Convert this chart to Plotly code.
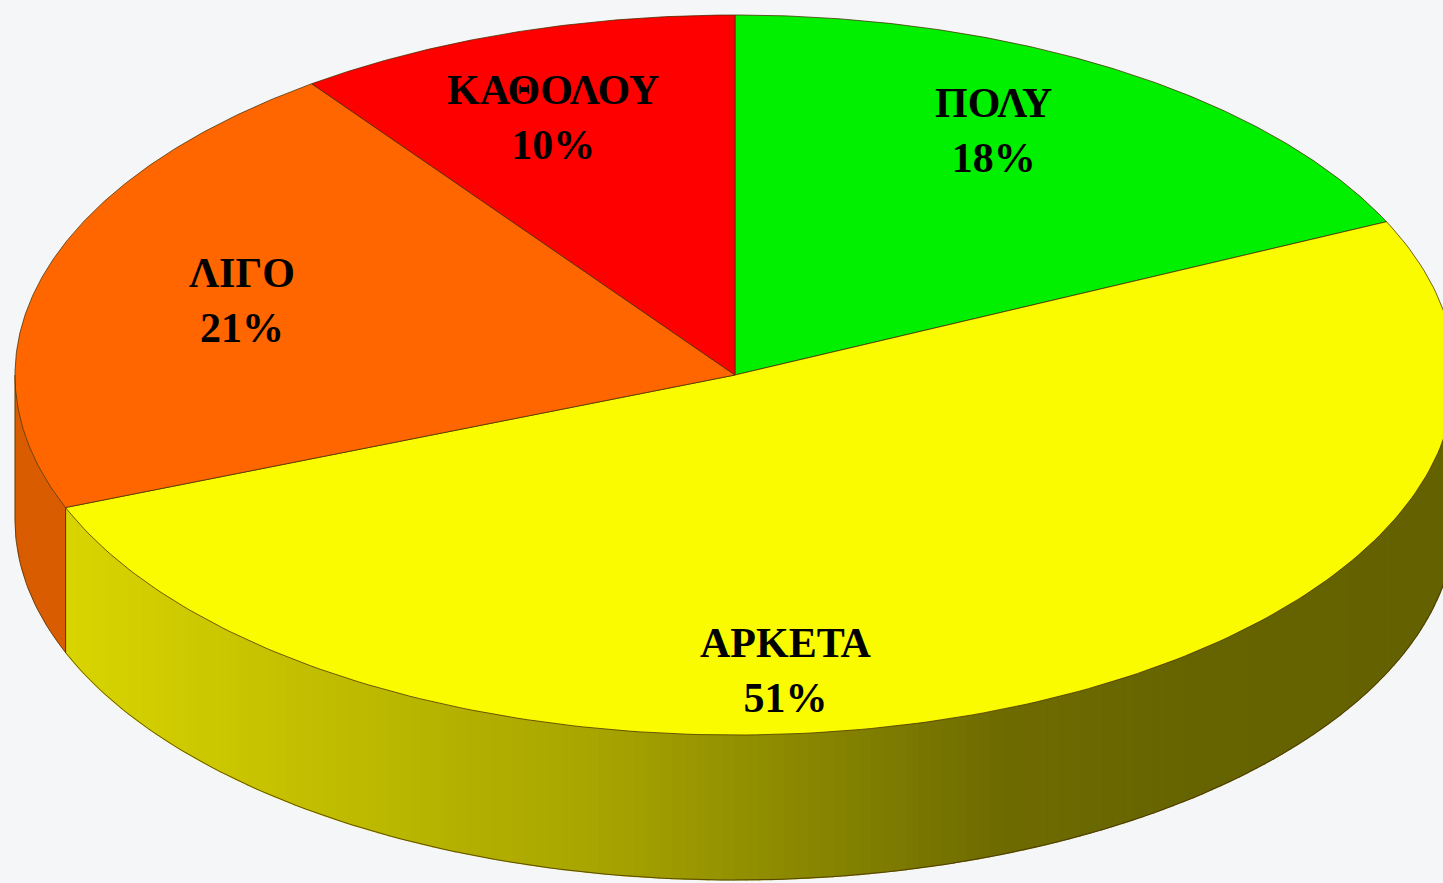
import numpy as np
import plotly.graph_objects as go

# ---- data ----
categories = ["ΠΟΛΥ", "ΑΡΚΕΤΑ", "ΛΙΓΟ", "ΚΑΘΟΛΟΥ"]
values = [18, 51, 21, 10]

# ---- styles / geometry (pixel space) ----
top_colors = ["#00f000", "#fbfb00", "#ff6600", "#ff0000"]
side_colors = ["#00b000", None, "#d95c00", "#c00000"]  # yellow side uses a gradient
W, H = 1443, 883
CX, CY = 735, 375
RX, RY = 720, 360
DEPTH = 145
START = 90.0  # degrees, clockwise direction
label_pos = [(993, 130), (786, 670), (242, 300), (553, 117)]

total = float(sum(values))
fracs = [v / total for v in values]
bounds = [START]
for f in fracs:
    bounds.append(bounds[-1] - f * 360.0)


def ell(theta_deg, dy=0.0):
    t = np.radians(theta_deg)
    return CX + RX * np.cos(t), CY - RY * np.sin(t) + dy


fig = go.Figure()


def yellow_side_color(x):
    xs = [65, 600, 1000, 1200, 1443]
    ks = [0.85, 0.655, 0.43, 0.40, 0.39]
    k = float(np.interp(x, xs, ks))
    return "rgb(%d,%d,0)" % (round(255 * k), round(250 * k))


EDGE = "rgba(70,45,0,0.75)"

# ---- side walls (only the front half, theta in [-180, 0]) ----
for i, cat in enumerate(categories):
    a0, a1 = bounds[i], bounds[i + 1]  # a0 > a1
    lo, hi = max(a1, -180.0), min(a0, 0.0)
    if lo >= hi:
        continue
    if side_colors[i] is not None:
        th = np.linspace(hi, lo, 120)
        xt, yt = ell(th)
        xb, yb = ell(th[::-1], DEPTH)
        fig.add_trace(go.Scatter(
            x=np.concatenate([xt, xb, xt[:1]]), y=np.concatenate([yt, yb, yt[:1]]),
            mode="lines", fill="toself", fillcolor=side_colors[i],
            line=dict(color=side_colors[i], width=0.5), hoverinfo="skip", showlegend=False))
    else:
        n = 160
        th = np.linspace(hi, lo, n + 1)
        for j in range(n):
            seg = np.linspace(th[j], th[j + 1], 3)
            xt, yt = ell(seg)
            xb, yb = ell(seg[::-1], DEPTH)
            c = yellow_side_color(float(np.mean(xt)))
            fig.add_trace(go.Scatter(
                x=np.concatenate([xt, xb, xt[:1]]), y=np.concatenate([yt, yb, yt[:1]]),
                mode="lines", fill="toself", fillcolor=c,
                line=dict(color=c, width=1.2), hoverinfo="skip", showlegend=False))
    for b in (a0, a1):
        if -180.0 < b < 0.0:
            x0, y0 = ell(b)
            x1, y1 = ell(b, DEPTH)
            fig.add_trace(go.Scatter(x=[x0, x1], y=[y0, y1], mode="lines",
                                     line=dict(color=EDGE, width=1),
                                     hoverinfo="skip", showlegend=False))

# outline of the side bottom and left edge
thb = np.linspace(180, 360, 200)
xb, yb = ell(thb, DEPTH)
fig.add_trace(go.Scatter(x=xb, y=yb, mode="lines", line=dict(color=EDGE, width=1),
                         hoverinfo="skip", showlegend=False))
xl0, yl0 = ell(180)
xl1, yl1 = ell(180, DEPTH)
fig.add_trace(go.Scatter(x=[xl0, xl1], y=[yl0, yl1], mode="lines",
                         line=dict(color=EDGE, width=1), hoverinfo="skip", showlegend=False))

# ---- top face slices ----
for i, cat in enumerate(categories):
    th = np.linspace(bounds[i], bounds[i + 1], 200)
    xs, ys = ell(th)
    fig.add_trace(go.Scatter(
        x=np.concatenate([[CX], xs, [CX]]), y=np.concatenate([[CY], ys, [CY]]),
        mode="lines", fill="toself", fillcolor=top_colors[i],
        line=dict(color=EDGE, width=1),
        name=cat, text="%s: %d%%" % (cat, round(fracs[i] * 100)),
        hoverinfo="text", hoveron="fills", showlegend=False))

# ---- labels ----
for i, cat in enumerate(categories):
    lx, ly = label_pos[i]
    fig.add_annotation(x=lx, y=ly, xref="x", yref="y",
                       text="<b>%s<br>%d%%</b>" % (cat, round(fracs[i] * 100)),
                       showarrow=False,
                       font=dict(family="Liberation Serif, Times New Roman, serif",
                                 size=42, color="#000000"))

fig.update_layout(
    width=W, height=H,
    margin=dict(l=0, r=0, t=0, b=0),
    paper_bgcolor="#f5f6f7", plot_bgcolor="#f5f6f7",
    xaxis=dict(range=[0, W], visible=False, fixedrange=True),
    yaxis=dict(range=[H, 0], visible=False, fixedrange=True),
    showlegend=False,
)

fig.write_html("out.html",
               config={"displayModeBar": False},
               post_script="document.body.style.margin='0px';document.body.style.background='#f5f6f7';")
